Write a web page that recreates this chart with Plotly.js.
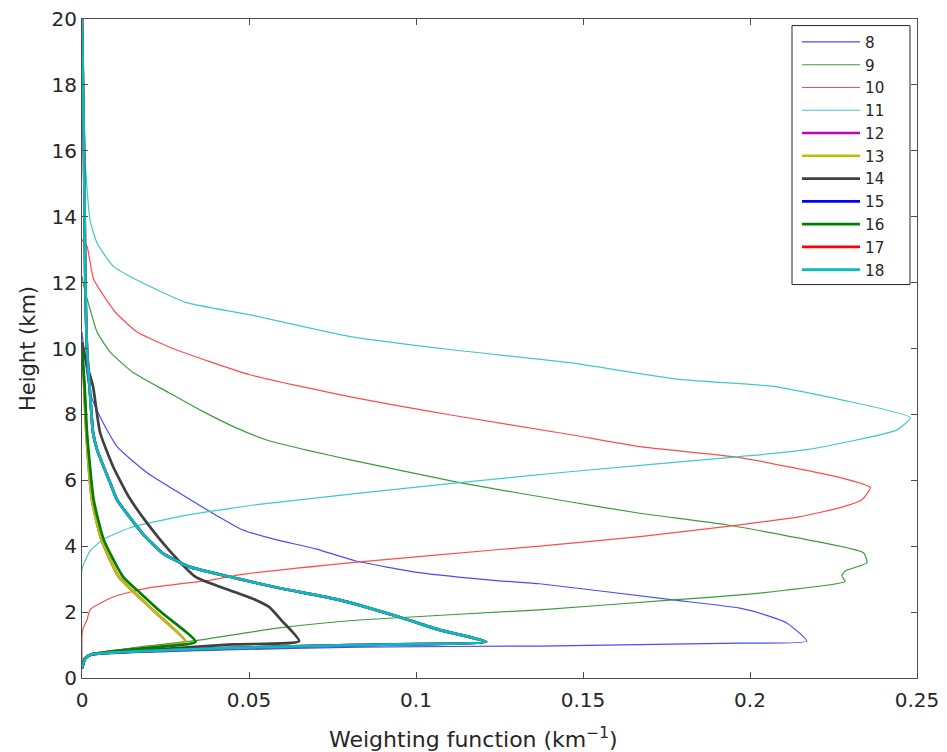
<!DOCTYPE html>
<html><head><meta charset="utf-8">
<script src="https://cdn.plot.ly/plotly-3.0.1.min.js"></script>
<style>html,body{margin:0;padding:0;background:#fff}#chart{width:947px;height:752px}</style>
</head><body><div id="chart"></div>
<script>
// Channel names
const channels = ['8','9','10','11','12','13','14','15','16','17','18'];

// Weighting function values (km^-1) and heights (km)
const y8  = [10.5, 9.6, 8.66, 7.93, 7.02, 6.23, 5.5, 4.95, 4.5, 4.2, 3.92, 3.55, 3.2, 2.95, 2.86, 2.37, 2.12, 1.9, 1.67, 1.12, 1.06, 0.97, 0.94, 0.85, 0.7, 0.6, 0.3];
const x8  = [0, 0.001, 0.0024, 0.0054, 0.0105, 0.0195, 0.031, 0.040, 0.048, 0.058, 0.070, 0.082, 0.101, 0.125, 0.137, 0.177, 0.197, 0.205, 0.211, 0.217, 0.197, 0.137, 0.083, 0.043, 0.0033, 0.0005, 0];

const y9  = [12.2, 11.9, 11.2, 10.5, 9.9, 9.27, 8.66, 8.1, 7.6, 7.2, 6.9, 6.63, 5.93, 5.35, 5.0, 4.65, 4.2, 3.8, 3.5, 3.25, 3.1, 2.93, 2.67, 2.52, 2.37, 2.07, 1.76, 1.52, 1.15, 0.95, 0.72, 0.6, 0.3];
const x9  = [0, 0.0005, 0.0024, 0.0045, 0.0084, 0.0153, 0.026, 0.036, 0.046, 0.056, 0.068, 0.080, 0.113, 0.146, 0.167, 0.193, 0.217, 0.234, 0.235, 0.2285, 0.2275, 0.2285, 0.211, 0.197, 0.177, 0.137, 0.083, 0.059, 0.035, 0.018, 0.004, 0.001, 0];

const y10 = [13.3, 13.1, 12.1, 11.1, 10.5, 9.97, 9.21, 8.54, 7.99, 7.39, 7.02, 6.69, 6.08, 5.78, 5.41, 5.17, 4.9, 4.65, 4.29, 4.0, 3.9, 3.53, 3.13, 2.98, 2.73, 2.46, 2.07, 1.76, 1.5, 1.3, 0.3];
const x10 = [0, 0.0015, 0.0035, 0.010, 0.0165, 0.028, 0.050, 0.080, 0.110, 0.146, 0.167, 0.197, 0.227, 0.236, 0.2335, 0.227, 0.215, 0.197, 0.167, 0.137, 0.125, 0.084, 0.047, 0.039, 0.0195, 0.0093, 0.0024, 0.0015, 0.0003, 0, 0];

const y11 = [20, 18, 16, 15, 13.9, 13.2, 12.5, 12.1, 11.4, 11.03, 10.37, 9.97, 9.57, 9.06, 8.85, 8.45, 7.9, 7.53, 6.93, 6.72, 6.26, 5.93, 5.27, 4.9, 4.56, 4.2, 3.85, 3.3, 0.3];
const x11 = [0, 0.0004, 0.0008, 0.0014, 0.0024, 0.0045, 0.0093, 0.016, 0.031, 0.050, 0.080, 0.110, 0.146, 0.179, 0.207, 0.227, 0.248, 0.244, 0.217, 0.197, 0.146, 0.113, 0.053, 0.029, 0.0144, 0.0063, 0.0024, 0, 0];

const y12 = [10.0, 9.0, 7.45, 5.4, 4.2, 3.07, 2.58, 1.97, 1.1, 0.9, 0.72, 0.6, 0.3];
const x12 = [0, 0.0006, 0.0013, 0.003, 0.0058, 0.011, 0.0158, 0.0222, 0.031, 0.017, 0.003, 0.001, 0];

const y13 = [10.0, 9.0, 7.45, 5.4, 4.2, 3.07, 2.58, 1.97, 1.1, 0.9, 0.72, 0.6, 0.3];
const x13 = [0, 0.0006, 0.0013, 0.003, 0.0058, 0.011, 0.0158, 0.0222, 0.031, 0.017, 0.003, 0.001, 0];

const y14 = [10.2, 9.5, 8.85, 7.45, 6.42, 5.5, 4.7, 3.89, 3.07, 2.67, 2.37, 2.16, 1.72, 1.12, 1.02, 0.85, 0.72, 0.6, 0.3];
const x14 = [0, 0.0015, 0.0033, 0.0054, 0.0093, 0.014, 0.0195, 0.026, 0.034, 0.044, 0.052, 0.056, 0.060, 0.065, 0.045, 0.02, 0.003, 0.001, 0];

const y15 = [20, 18, 16, 14, 12, 10, 8.5, 7.45, 6.93, 5.93, 5.41, 4.4, 3.8, 3.38, 3.03, 2.73, 2.37, 1.85, 1.46, 1.1, 1.0, 0.9, 0.72, 0.6, 0.3];
const x15 = [0, 0.0003, 0.0006, 0.0008, 0.001, 0.0015, 0.0025, 0.0033, 0.0045, 0.0084, 0.0105, 0.018, 0.024, 0.032, 0.046, 0.059, 0.077, 0.095, 0.107, 0.121, 0.08, 0.04, 0.003, 0.001, 0];

const y16 = [10.0, 9.0, 7.45, 5.4, 4.2, 3.07, 2.58, 1.97, 1.1, 0.9, 0.72, 0.6, 0.3];
const x16 = [0, 0.0007, 0.0015, 0.0035, 0.0065, 0.0123, 0.0174, 0.024, 0.034, 0.018, 0.003, 0.001, 0];

const y17 = [20, 18, 16, 14, 12, 10, 8.5, 7.45, 6.93, 5.93, 5.41, 4.4, 3.8, 3.38, 3.03, 2.73, 2.37, 1.85, 1.46, 1.1, 1.0, 0.9, 0.72, 0.6, 0.3];
const x17 = [0, 0.0003, 0.0006, 0.0008, 0.001, 0.0015, 0.0025, 0.0033, 0.0045, 0.0084, 0.0105, 0.018, 0.024, 0.032, 0.046, 0.059, 0.077, 0.095, 0.107, 0.121, 0.08, 0.04, 0.003, 0.001, 0];

const y18 = [20, 18, 16, 14, 12, 10, 8.5, 7.45, 6.93, 5.93, 5.41, 4.4, 3.8, 3.38, 3.03, 2.73, 2.37, 1.85, 1.46, 1.1, 1.0, 0.9, 0.72, 0.6, 0.3];
const x18 = [0, 0.0003, 0.0006, 0.0008, 0.001, 0.0015, 0.0025, 0.0033, 0.0045, 0.0084, 0.0105, 0.018, 0.024, 0.032, 0.046, 0.059, 0.077, 0.095, 0.107, 0.121, 0.08, 0.04, 0.003, 0.001, 0];

const xs = [x8, x9, x10, x11, x12, x13, x14, x15, x16, x17, x18];
const ys = [y8, y9, y10, y11, y12, y13, y14, y15, y16, y17, y18];

const xTicks = [0, 0.05, 0.1, 0.15, 0.2, 0.25];
const xTickText = ['0', '0.05', '0.1', '0.15', '0.2', '0.25'];
const yTicks = [0, 2, 4, 6, 8, 10, 12, 14, 16, 18, 20];
const xTitle = 'Weighting function (km<sup>−1</sup>)';
const yTitle = 'Height (km)';

// Styles
const colors = ['#4a4aff', '#3c9c3c', '#ff4c4c', '#42c8c8', '#bf00bf', '#bfbf00', '#404040', '#0000ff', '#008000', '#ff0000', '#00bfbf'];
const widths = [1.2, 1.2, 1.2, 1.2, 2.7, 2.7, 2.7, 2.7, 2.7, 2.7, 2.7];

const FONT = 'DejaVu Sans, Liberation Sans, Arial, sans-serif';

const traces = channels.map((name, i) => ({
  type: 'scatter', mode: 'lines', name: name,
  x: xs[i], y: ys[i],
  line: {color: colors[i], width: widths[i], shape: 'spline', smoothing: 0.5}
}));

const axisCommon = {
  showline: true, linecolor: '#4d4d4d', linewidth: 1, mirror: 'ticks',
  ticks: 'inside', ticklen: 6, tickcolor: '#4d4d4d', tickwidth: 1,
  showgrid: false, zeroline: false,
  tickfont: {family: FONT, size: 20, color: '#262626'}
};

const layout = {
  width: 947, height: 752,
  margin: {l: 82, r: 30, t: 19, b: 74, pad: 0},
  paper_bgcolor: '#fff', plot_bgcolor: '#fff',
  showlegend: true,
  xaxis: Object.assign({}, axisCommon, {
    range: [0, 0.25], tickvals: xTicks, ticktext: xTickText,
    ticklabelstandoff: 4
  }),
  yaxis: Object.assign({}, axisCommon, {
    range: [0, 20], tickvals: yTicks,
    title: {text: yTitle, font: {family: FONT, size: 21, color: '#262626'}, standoff: 10}
  }),
  annotations: [{
    text: xTitle, xref: 'paper', yref: 'paper', x: 0.469, y: -0.0911,
    xanchor: 'center', yanchor: 'middle', showarrow: false,
    font: {family: FONT, size: 22, color: '#262626'}
  }],
  legend: {
    x: 0.8563, y: 0.99, xanchor: 'left', yanchor: 'top',
    bgcolor: 'rgba(0,0,0,0)', borderwidth: 0,
    font: {family: FONT, size: 15.2, color: '#262626'},
    itemwidth: 58, tracegroupgap: 0
  },
  shapes: [{
    type: 'rect', xref: 'paper', yref: 'paper',
    x0: 0.8503, x1: 0.9916, y0: 0.597, y1: 0.99,
    line: {color: '#262626', width: 1}, fillcolor: 'rgba(0,0,0,0)', layer: 'above'
  }]
};

Plotly.newPlot('chart', traces, layout, {displayModeBar: false, staticPlot: true});
</script>
</body></html>
